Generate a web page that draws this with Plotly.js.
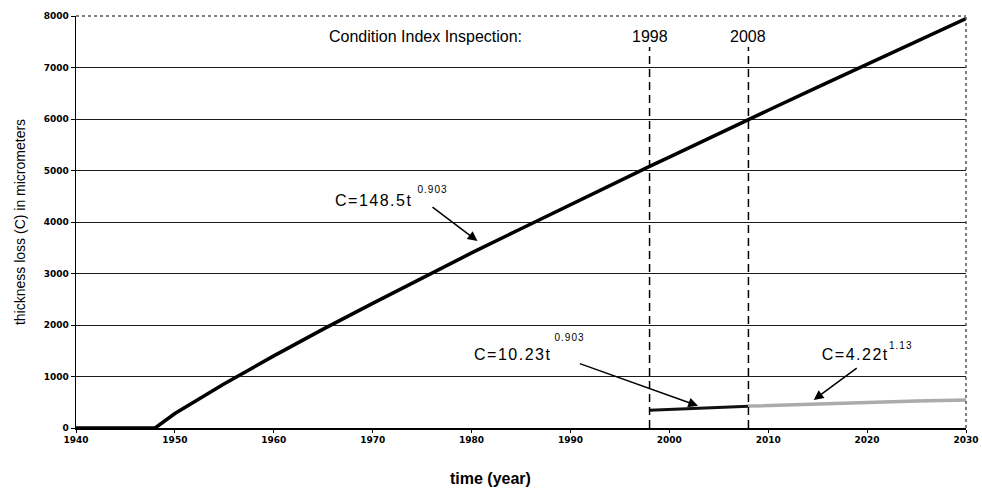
<!DOCTYPE html>
<html>
<head>
<meta charset="utf-8">
<script src="https://cdn.plot.ly/plotly-3.0.1.min.js"></script>
<style>html,body{margin:0;padding:0;background:#fff;}#chart{width:982px;height:488px;}</style>
</head>
<body>
<div id="chart"></div>
<script>
// Main curve C=148.5t^0.903
const mainYears = [1940, 1944, 1948, 1950, 1952, 1955, 1960, 1965, 1970, 1975, 1980, 1985, 1990, 1995, 1998, 2000, 2005, 2008, 2010, 2015, 2020, 2025, 2030];
const mainVals  = [0, 0, 0, 280, 520, 860, 1400, 1920, 2420, 2910, 3400, 3870, 4340, 4800, 5080, 5260, 5720, 5990, 6170, 6620, 7060, 7500, 7950];
// Curve C=10.23t^0.903
const midYears = [1998, 2003, 2008];
const midVals  = [345, 385, 420];
// Curve C=4.22t^1.13 (grey)
const greyYears = [2008, 2012, 2015, 2020, 2025, 2030];
const greyVals  = [425, 450, 470, 500, 525, 545];
// Inspection years (dashed lines)
const inspYears = [1998, 2008];
const inspTop = 7400;

const xTicks = [1940, 1950, 1960, 1970, 1980, 1990, 2000, 2010, 2020, 2030];
const yTicks = [0, 1000, 2000, 3000, 4000, 5000, 6000, 7000, 8000];

const traces = [
  {x: mainYears, y: mainVals, mode: 'lines', line: {color: '#000', width: 3.5}, hoverinfo: 'skip'},
  {x: midYears, y: midVals, mode: 'lines', line: {color: '#111', width: 3}, hoverinfo: 'skip'},
  {x: greyYears, y: greyVals, mode: 'lines', line: {color: '#ababab', width: 3.5}, hoverinfo: 'skip'}
];
inspYears.forEach(yr => traces.push({x: [yr, yr], y: [0, inspTop], mode: 'lines', line: {color: '#000', width: 1.5, dash: '8px,5px'}, hoverinfo: 'skip'}));

const fam = 'Liberation Sans, Arial, sans-serif';
const txtFont = {family: fam, size: 16, color: '#000'};
const fFont = {family: fam, size: 16, color: '#000'};
const supFont = {family: fam, size: 10, color: '#000'};

function txt(x, y, t, font, anchor) {
  return {x: x, y: y, xref: 'x', yref: 'y', xanchor: anchor || 'left', yanchor: 'middle', text: t, showarrow: false, font: font};
}
function arrow(x, y, ax, ay) {
  return {x: x, y: y, ax: ax, ay: ay, xref: 'x', yref: 'y', axref: 'x', ayref: 'y', text: '', showarrow: true, arrowhead: 2, arrowsize: 1.3, arrowwidth: 1.5, arrowcolor: '#000'};
}

const layout = {
  width: 982, height: 488,
  margin: {l: 76, r: 16, t: 16, b: 60},
  paper_bgcolor: '#fff', plot_bgcolor: '#fff',
  showlegend: false,
  xaxis: {
    range: [1940, 2030], tickvals: xTicks, ticktext: xTicks.map(String),
    showgrid: false, zeroline: false,
    showline: true, linecolor: '#000', linewidth: 1.5,
    ticks: 'outside', ticklen: 3, tickcolor: '#000',
    tickfont: {family: 'DejaVu Sans, sans-serif', size: 9, color: '#000', weight: 'bold'}
  },
  yaxis: {
    range: [0, 8000], tickvals: yTicks, ticktext: yTicks.map(String),
    showgrid: true, gridcolor: '#1a1a1a', gridwidth: 1,
    zeroline: false,
    showline: true, linecolor: '#000', linewidth: 1.5,
    ticks: 'outside', ticklen: 4, tickcolor: '#000',
    tickfont: {family: 'DejaVu Sans, sans-serif', size: 9, color: '#000', weight: 'bold'},
    title: {text: 'thickness loss (C) in micrometers', font: {family: fam, size: 14, color: '#000'}, standoff: 14}
  },
  shapes: [
    {type: 'line', xref: 'paper', yref: 'paper', x0: 0, x1: 1, y0: 1, y1: 1, line: {color: '#555', width: 1.5, dash: 'dot'}},
    {type: 'line', xref: 'paper', yref: 'paper', x0: 1, x1: 1, y0: 0, y1: 1, line: {color: '#555', width: 1.5, dash: 'dot'}}
  ],
  annotations: [
    txt(1965.4, 7600, 'Condition Index Inspection:', txtFont),
    txt(1998, 7600, '1998', txtFont, 'center'),
    txt(2008, 7600, '2008', txtFont, 'center'),
    txt(1970.1, 4408, 'C=148.5t', fFont, 'center'),
    txt(1976.0, 4640, '0.903', supFont, 'center'),
    txt(1984.2, 1418, 'C=10.23t', fFont, 'center'),
    txt(1989.9, 1760, '0.903', supFont, 'center'),
    txt(2018.8, 1418, 'C=4.22t', fFont, 'center'),
    txt(2023.4, 1600, '1.13', supFont, 'center'),
    {x: 0.466, y: -0.122, xref: 'paper', yref: 'paper', xanchor: 'center', yanchor: 'middle', text: 'time (year)', showarrow: false, font: {family: fam, size: 16, color: '#000', weight: 'bold'}},
    arrow(1980.6, 3630, 1975.9, 4310),
    arrow(2002.9, 430, 1990.8, 1260),
    arrow(2014.6, 545, 2019.1, 1185)
  ]
};

Plotly.newPlot('chart', traces, layout, {displayModeBar: false, staticPlot: true}).then(() => {
  document.querySelectorAll('.annotation-text').forEach(el => {
    const t = el.textContent;
    if (t.startsWith('C=')) el.style.letterSpacing = '1.5px';
    else if (/^[0-9.]+$/.test(t) && t.indexOf('.') >= 0) el.style.letterSpacing = '1px';
  });
});
</script>
</body>
</html>
